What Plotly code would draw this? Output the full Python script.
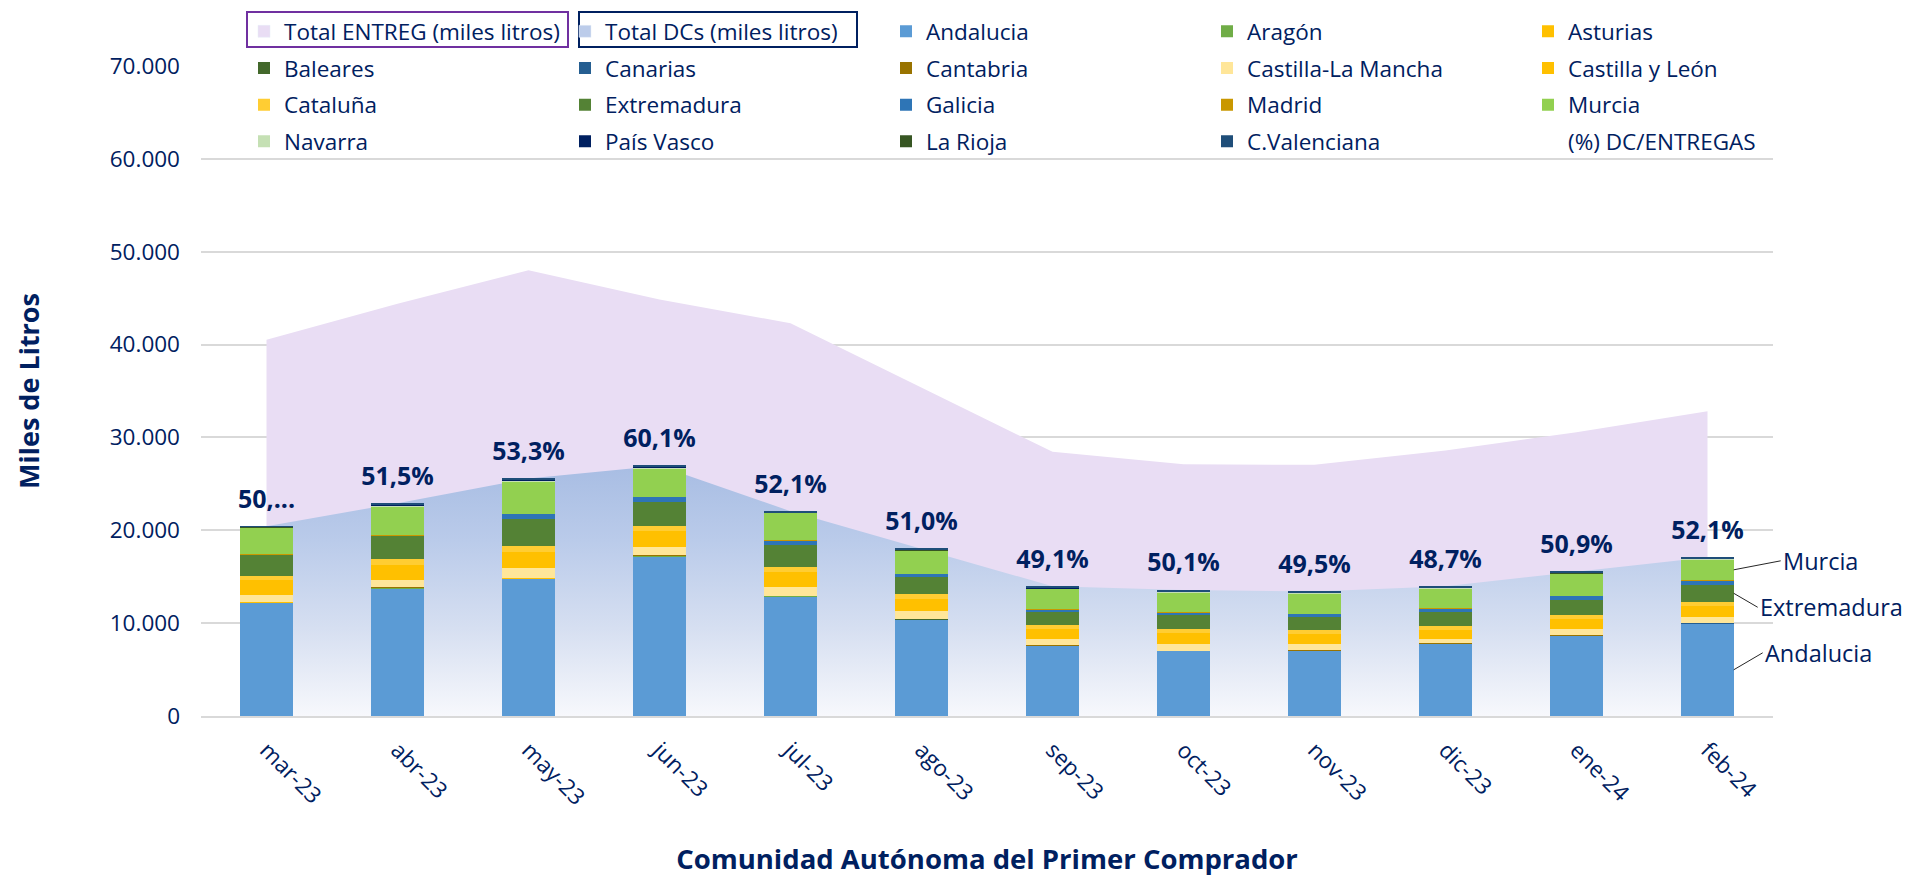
import plotly.graph_objects as go

months = ["mar-23", "abr-23", "may-23", "jun-23", "jul-23", "ago-23",
          "sep-23", "oct-23", "nov-23", "dic-23", "ene-24", "feb-24"]

# totales (miles de litros)
total_entreg = [40530, 44400, 48000, 44850, 42300, 35350, 28450, 27100, 27050, 28600, 30550, 32820]
total_dc = [20440, 22920, 25580, 26940, 22060, 18030, 13970, 13580, 13400, 13970, 15550, 17100]
pct_labels = ["50,...", "51,5%", "53,3%", "60,1%", "52,1%", "51,0%",
              "49,1%", "50,1%", "49,5%", "48,7%", "50,9%", "52,1%"]

# DCs por comunidad
andalucia = [12250, 13760, 14830, 17200, 12900, 10420, 7580, 7000, 7040, 7760, 8620, 9950]
aragon = [25, 30, 30, 35, 25, 20, 15, 15, 15, 15, 20, 20]
asturias = [5, 5, 5, 5, 5, 5, 5, 5, 5, 5, 5, 5]
baleares = [10, 10, 10, 15, 10, 10, 5, 5, 5, 5, 10, 10]
canarias = [30, 35, 35, 40, 30, 25, 25, 25, 25, 25, 30, 30]
cantabria = [2, 2, 2, 2, 2, 2, 2, 2, 2, 2, 2, 2]
castilla_la_mancha = [755, 825, 1010, 905, 930, 795, 690, 725, 650, 470, 650, 650]
castilla_y_leon = [1540, 1640, 1780, 1700, 1590, 1370, 1080, 1160, 1100, 1020, 1130, 1210]
cataluna = [507, 551, 590, 563, 529, 462, 357, 384, 372, 344, 379, 407]
extremadura = [2263, 2586, 2910, 2622, 2371, 1904, 1473, 1581, 1473, 1545, 1688, 1867]
galicia = [40, 40, 574, 503, 539, 287, 287, 251, 323, 431, 395, 432]
madrid = [20, 20, 20, 20, 20, 20, 20, 20, 20, 20, 20, 20]
murcia = [2850, 3030, 3429, 3033, 2925, 2494, 2207, 2171, 2208, 2135, 2387, 2278]
navarra = [20, 180, 180, 150, 30, 40, 30, 30, 20, 30, 30, 30]
pais_vasco = [20, 25, 25, 25, 20, 20, 20, 20, 15, 20, 20, 20]
la_rioja = [20, 40, 30, 30, 30, 30, 30, 30, 20, 30, 30, 30]
c_valenciana = [84, 150, 124, 118, 100, 126, 136, 136, 88, 100, 135, 136]

regions = [
    ("Andalucia", andalucia, "#5B9BD5"),
    ("Aragón", aragon, "#70AD47"),
    ("Asturias", asturias, "#FFC000"),
    ("Baleares", baleares, "#43682B"),
    ("Canarias", canarias, "#255E91"),
    ("Cantabria", cantabria, "#997300"),
    ("Castilla-La Mancha", castilla_la_mancha, "#FFE699"),
    ("Castilla y León", castilla_y_leon, "#FFC000"),
    ("Cataluña", cataluna, "#FFCD33"),
    ("Extremadura", extremadura, "#548235"),
    ("Galicia", galicia, "#2E75B6"),
    ("Madrid", madrid, "#C99700"),
    ("Murcia", murcia, "#92D050"),
    ("Navarra", navarra, "#C5E0B4"),
    ("País Vasco", pais_vasco, "#002060"),
    ("La Rioja", la_rioja, "#375623"),
    ("C.Valenciana", c_valenciana, "#1F4E79"),
]

NAVY = "#002060"
FONT = "Open Sans"
ENTREG_COL = "#E9DDF4"
W, H = 1911, 877
ML, MR, MT, MB = 10, 10, 5, 161
GW, GH = W - ML - MR, H - MT - MB


def px_x(px):
    return (px - ML) / GW


def px_y(py):
    return (H - MB - py) / GH


legend_rows = ["legend", "legend2", "legend3", "legend4"]
slot = [0]


def next_legend():
    name = legend_rows[slot[0] // 5]
    slot[0] += 1
    return name


fig = go.Figure()

# areas (ejes base, por debajo de las barras)
fig.add_trace(go.Scatter(
    x=months, y=total_entreg, name="Total ENTREG (miles litros)", mode="lines",
    line=dict(width=0), fill="tozeroy", fillcolor=ENTREG_COL,
    showlegend=False, hoverinfo="skip"))

fig.add_trace(go.Scatter(
    x=months, y=total_dc, name="Total DCs (miles litros)", mode="lines",
    line=dict(width=0), fill="tozeroy",
    fillgradient=dict(type="vertical", start=0, stop=max(total_dc),
                      colorscale=[[0, "#F7F8FC"], [0.35, "#D6DFF1"],
                                  [0.7, "#BACBEA"], [1, "#A8BDE3"]]),
    showlegend=False, hoverinfo="skip"))

# entradas de leyenda con cuadro para las areas
for name, col in [("Total ENTREG (miles litros)", ENTREG_COL),
                  ("Total DCs (miles litros)", "#BCCCEA")]:
    fig.add_trace(go.Bar(x=[None], y=[None], name=name, marker=dict(color=col),
                         xaxis="x2", yaxis="y2", legend=next_legend()))

for name, vals, col in regions:
    fig.add_trace(go.Bar(
        x=months, y=vals, name=name, marker=dict(color=col, line=dict(width=0)),
        xaxis="x2", yaxis="y2", legend=next_legend()))

fig.add_trace(go.Scatter(
    x=months, y=total_dc, name="(%) DC/ENTREGAS", mode="markers+text",
    text=pct_labels, textposition="top center",
    textfont=dict(family=FONT, size=25, color=NAVY, weight="bold"),
    marker=dict(size=18, color="rgba(0,0,0,0)", opacity=0), xaxis="x2", yaxis="y2",
    legend=next_legend(), cliponaxis=False))

# etiquetas de la última barra
last = len(months) - 1
cum = {}
acc = 0
for name, vals, col in regions:
    cum[name] = acc + vals[last] / 2
    acc += vals[last]
for name, ax, ay in [("Murcia", 47, -9), ("Extremadura", 24, 14), ("Andalucia", 29, -17)]:
    fig.add_annotation(
        x=last + 0.2, y=cum[name], xref="x2", yref="y2", text=name,
        showarrow=True, arrowhead=0, arrowwidth=1, arrowcolor="#262626",
        ax=ax, ay=ay, xanchor="left", yanchor="middle", standoff=0,
        font=dict(family=FONT, size=23.5, color=NAVY))

# recuadros en la leyenda
for x0, x1, col in [(247, 568, "#7030A0"), (579, 857, NAVY)]:
    fig.add_shape(type="rect", xref="paper", yref="paper",
                  x0=px_x(x0), x1=px_x(x1), y0=px_y(47), y1=px_y(12),
                  line=dict(color=col, width=2), fillcolor="rgba(0,0,0,0)")

row_y = [31.7, 68.3, 105, 141.7]
legend_cfg = {}
for i, key in enumerate(legend_rows):
    legend_cfg[key] = dict(
        orientation="h", x=px_x(244), y=px_y(row_y[i]), xanchor="left", yanchor="middle",
        entrywidth=276, entrywidthmode="pixels", traceorder="normal",
        bgcolor="rgba(0,0,0,0)", font=dict(family=FONT, size=22.5, color=NAVY),
        itemclick=False, itemdoubleclick=False)

xdom = [px_x(201), px_x(1773)]
fig.update_layout(
    width=W, height=H,
    margin=dict(l=ML, r=MR, t=MT, b=MB, autoexpand=False),
    plot_bgcolor="white", paper_bgcolor="white",
    font=dict(family=FONT, color=NAVY),
    barmode="stack", bargap=0.6,
    showlegend=True,
    xaxis=dict(domain=xdom, type="category", categoryorder="array", categoryarray=months,
               range=[-0.5, len(months) - 0.5], tickangle=45,
               tickfont=dict(family=FONT, size=22.5, color=NAVY), ticklabelstandoff=10,
               showgrid=False, showline=True, linecolor="#D9D9D9", linewidth=2,
               title=dict(text="Comunidad Autónoma del Primer Comprador", standoff=44,
                          font=dict(family=FONT, size=27.5, color=NAVY, weight="bold"))),
    yaxis=dict(domain=[0, px_y(66)], range=[0, 70000], tickvals=list(range(0, 70001, 10000)),
               ticktext=[f"{v:,}".replace(",", ".") for v in range(0, 70001, 10000)],
               tickfont=dict(family=FONT, size=22.5, color=NAVY), ticklabelstandoff=20,
               showgrid=True, gridcolor="#D9D9D9", gridwidth=1.5, zeroline=False,
               title=dict(text="Miles de Litros", standoff=62,
                          font=dict(family=FONT, size=27, color=NAVY, weight="bold"))),
    xaxis2=dict(domain=xdom, overlaying="x", type="category", categoryorder="array",
                categoryarray=months, range=[-0.5, len(months) - 0.5], visible=False),
    yaxis2=dict(domain=[0, px_y(66)], overlaying="y", range=[0, 70000], visible=False),
    **legend_cfg,
)

fig.write_html("out.html", config={"displayModeBar": False},
               post_script="document.body.style.margin='0';")
